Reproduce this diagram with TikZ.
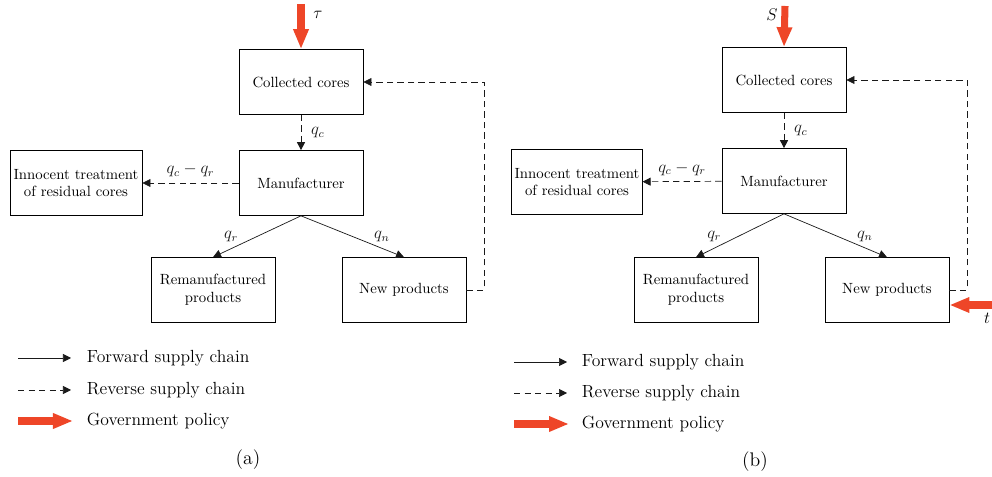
\documentclass[tikz,border=0pt]{standalone}
\usepackage{tikz}
\usetikzlibrary{arrows.meta, positioning, calc}
\usepackage{amsmath}
\usepackage{xcolor}
\definecolor{policyred}{HTML}{EE4628}
\definecolor{linegray}{HTML}{1A1A1A}

\begin{document}
\begin{tikzpicture}[
    x=0.025cm, y=-0.025cm,
    every node/.style={font=\fontsize{10.5}{12.5}\selectfont},
    box/.style={draw, line width=0.6pt, minimum width=3.1cm, minimum height=1.62cm, align=center, inner sep=2pt},
    fwd/.style={-{Triangle[length=2mm, width=2mm]}, line width=0.5pt, linegray},
    rev/.style={-{Triangle[length=2mm, width=2mm]}, dashed, dash pattern=on 4.5pt off 3pt, line width=0.5pt, linegray},
    policy/.style={-{Triangle[length=5mm, width=3.6mm]}, line width=5pt, policyred},
    lbl/.style={font=\fontsize{12}{14}\selectfont, inner sep=1pt},
    legtext/.style={anchor=west, font=\fontsize{12.5}{15}\selectfont}
]
    \useasboundingbox (0,0) rectangle (992,477);

    % ---- panel (a)
    \node[box] (cca) at (301,82) {Collected cores};
    \node[box] (mfa) at (301,183) {Manufacturer};
    \node[box, minimum width=3.3cm] (ina) at (76,183) {Innocent treatment\\of residual cores};
    \node[box] (rpa) at (213,290) {Remanufactured\\products};
    \node[box] (npa) at (404,290) {New products};
    \coordinate (tauin) at (301,4);
    \coordinate (loopa) at (484,0);

    \draw[policy] (tauin) -- (cca.north);
    \node[lbl] at (318,15) {$\tau$};
    \draw[rev] (cca) -- node[lbl, right=6pt] {$q_c$} (mfa);
    \draw[rev] (mfa) -- node[lbl, above=3pt] {$q_c-q_r$} (ina);
    \draw[fwd] (mfa.south) -- node[lbl, above left=0pt and 1pt, pos=0.68] {$q_r$} (rpa.north);
    \draw[fwd] (mfa.south) -- node[lbl, above right=0pt and 1pt, pos=0.68] {$q_n$} (npa.north);
    \draw[rev] (npa.east) -| (loopa |- cca.east) -- (cca.east);

    \coordinate (fa1) at (18,358);
    \coordinate (fa2) at (71,358);
    \coordinate (ra1) at (18,390);
    \coordinate (ra2) at (71,390);
    \coordinate (pa1) at (18,421);
    \coordinate (pa2) at (73,421);
    \draw[fwd] (fa1) -- (fa2);
    \draw[rev] (ra1) -- (ra2);
    \draw[policy] (pa1) -- (pa2);
    \node[legtext] (fta) at (82,358) {Forward supply chain};
    \node[legtext] (rta) at (82,390) {Reverse supply chain};
    \node[legtext] (pta) at (82,421) {Government policy};
    \node[font=\fontsize{14}{16}\selectfont] (capa) at (248,460) {(a)};

    % ---- panel (b)
    \node[box] (ccb) at (784,80) {Collected cores};
    \node[box] (mfb) at (784,181) {Manufacturer};
    \node[box, minimum width=3.25cm] (inb) at (577,182) {Innocent treatment\\of residual cores};
    \node[box] (rpb) at (696,290) {Remanufactured\\products};
    \node[box] (npb) at (887,290) {New products};
    \coordinate (sin) at (785,6);
    \coordinate (tin) at (995,305);
    \coordinate (loopb) at (967,0);

    \draw[policy] (sin) -- (ccb.north);
    \node[lbl] at (772,15) {$S$};
    \draw[rev] (ccb) -- node[lbl, right=6pt] {$q_c$} (mfb);
    \draw[rev] (mfb) -- node[lbl, above=3pt] {$q_c-q_r$} (inb);
    \draw[fwd] (mfb.south) -- node[lbl, above left=0pt and 1pt, pos=0.68] {$q_r$} (rpb.north);
    \draw[fwd] (mfb.south) -- node[lbl, above right=0pt and 1pt, pos=0.68] {$q_n$} (npb.north);
    \draw[rev] (npb.east) -| (loopb |- ccb.east) -- (ccb.east);
    \draw[policy] (tin) -- (tin -| npb.east);
    \node[lbl] at (987,318) {$t$};

    \coordinate (fb1) at (514,362);
    \coordinate (fb2) at (567,362);
    \coordinate (rb1) at (514,393);
    \coordinate (rb2) at (567,393);
    \coordinate (pb1) at (514,424);
    \coordinate (pb2) at (569,424);
    \draw[fwd] (fb1) -- (fb2);
    \draw[rev] (rb1) -- (rb2);
    \draw[policy] (pb1) -- (pb2);
    \node[legtext] (ftb) at (577,362) {Forward supply chain};
    \node[legtext] (rtb) at (577,393) {Reverse supply chain};
    \node[legtext] (ptb) at (577,424) {Government policy};
    \node[font=\fontsize{14}{16}\selectfont] (capb) at (755,462) {(b)};
\end{tikzpicture}
\end{document}
